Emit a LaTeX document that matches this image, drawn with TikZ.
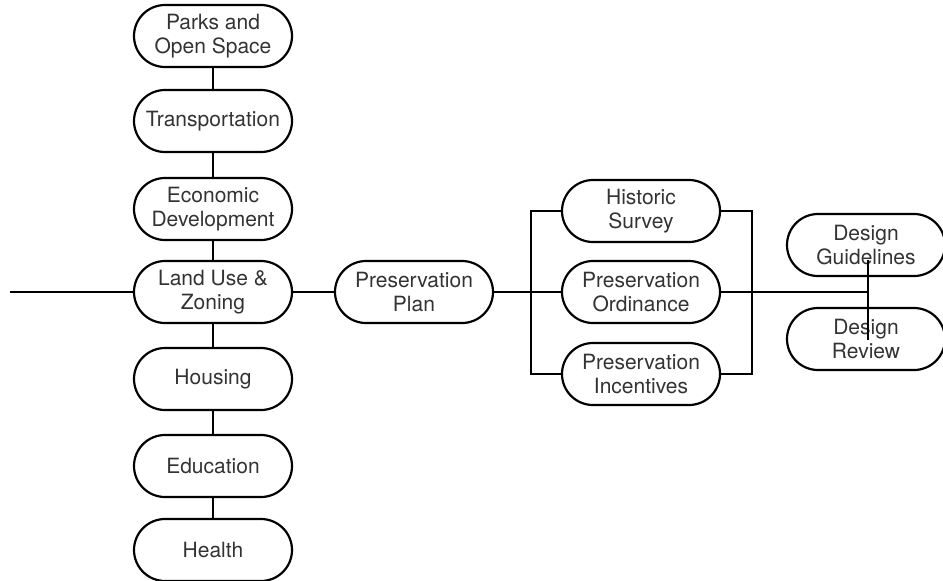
\documentclass[tikz,border=0pt]{standalone}
\usepackage{fontspec}
\setmainfont{TeX Gyre Heros}
\usetikzlibrary{positioning}
\tikzset{stadium/.style={rectangle, draw, line width=2.2pt, rounded corners=31pt,
  minimum width=158pt, minimum height=62pt, inner sep=0pt, align=center,
  text=black!80, font=\fontsize{21}{24.5}\selectfont}}
\newcommand{\planbox}[3] {\node at (#1) (#2) [stadium] {#3};}
\newcommand{\planlink}[2] {\draw [line width=2.2pt] (#1) -- (#2);}

\begin{document}
\begin{tikzpicture}[x=1pt, y=-1pt]
\useasboundingbox (0,0) rectangle (943,581);

\planbox{213,36}{parks}{Parks and\\Open Space}
\planbox{213,121}{transport}{Transportation}
\planbox{213,209}{economic}{Economic\\Development}
\planbox{213,292}{landuse}{Land Use \&\\Zoning}
\planbox{213,379}{housing}{Housing}
\planbox{213,466}{education}{Education}
\planbox{213,550}{health}{Health}
\coordinate (landin) at (10,292);

\planbox{414,292}{plan}{Preservation\\Plan}

\planbox{641,211}{survey}{Historic\\Survey}
\planbox{641,292}{ordinance}{Preservation\\Ordinance}
\planbox{641,374}{incentives}{Preservation\\Incentives}

\planbox{866,245}{guidelines}{Design\\Guidelines}
\planbox{866,339}{review}{Design\\Review}
\coordinate (designin) at (868,292);
\coordinate (designtop) at (868,260);
\coordinate (designbot) at (868,340);

\planlink{parks}{transport}
\planlink{transport}{economic}
\planlink{economic}{landuse}
\planlink{landuse}{housing}
\planlink{housing}{education}
\planlink{education}{health}
\planlink{landin}{landuse}
\planlink{landuse}{plan}
\planlink{plan}{ordinance}
\planlink{ordinance}{designin}
\planlink{designtop}{designbot}

\draw [line width=2.2pt] (survey.west) -- ++(-30,0) |- (incentives.west);
\draw [line width=2.2pt] (survey.east) -- ++(31,0) |- (incentives.east);

\end{tikzpicture}
\end{document}
